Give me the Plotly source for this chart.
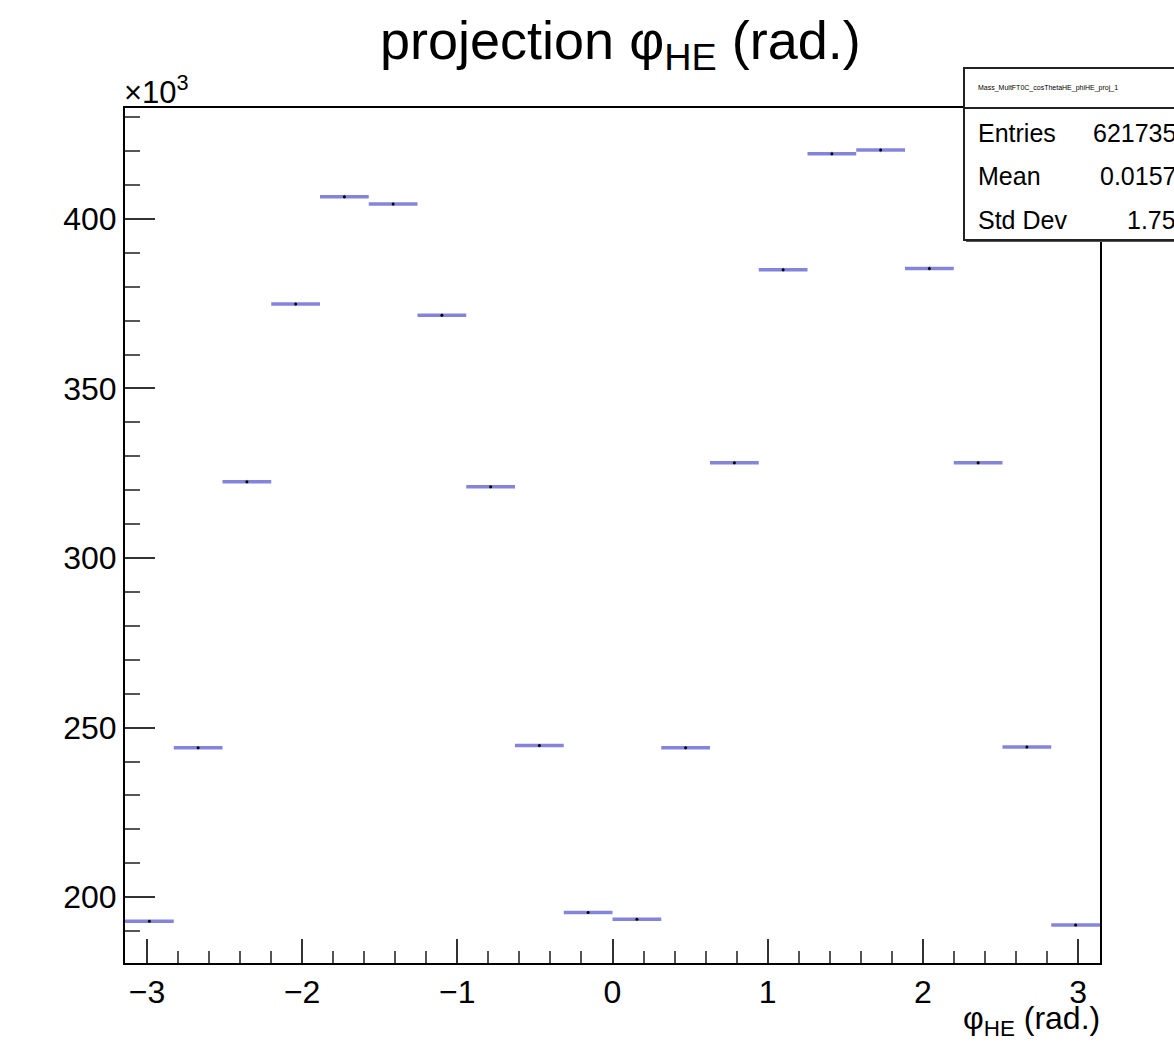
import numpy as np
import plotly.graph_objects as go

# Histogram of phi_HE: 20 uniform bins over [-pi, pi]
n_bins = 20
bin_edges = np.linspace(-np.pi, np.pi, n_bins + 1)
counts_k = [192.9, 244.1, 322.5, 374.9, 406.5, 404.4, 371.6, 321.0, 244.7, 195.5,
            193.5, 244.1, 328.1, 385.0, 419.2, 420.3, 385.4, 328.1, 244.3, 191.8]
y_tick_values_k = [200, 250, 300, 350, 400]
x_tick_values = [-3, -2, -1, 0, 1, 2, 3]

stats_name = "Mass_MultFT0C_cosThetaHE_phiHE_proj_1"
stats_labels = ["Entries", "Mean", "Std Dev"]
stats_values = ["6217350", "0.01573", "1.752"]

centers = 0.5 * (bin_edges[:-1] + bin_edges[1:])
half_width = 0.5 * np.diff(bin_edges)
counts = np.array(counts_k) * 1000.0

W, H = 1174, 1044
L, R, T, B = 125, 1100, 108, 963
FONT = "Liberation Sans, Arial, Helvetica, sans-serif"


def px(xp):
    return (xp - L) / (R - L)


def py(yp):
    return (B - yp) / (B - T)


fig = go.Figure()
fig.add_trace(go.Scatter(
    x=centers, y=counts, mode="markers",
    marker=dict(color="black", size=3),
    error_x=dict(type="data", array=half_width, color="#8484dc", thickness=3.5, width=0),
    error_y=dict(type="data", array=np.sqrt(counts), color="#8484dc", thickness=1, width=0),
    showlegend=False, cliponaxis=True,
))

fig.update_xaxes(
    range=[-np.pi, np.pi], showgrid=False, zeroline=False,
    showline=True, linecolor="black", linewidth=2, mirror=True,
    ticks="inside", ticklen=24, tickwidth=2, tickcolor="#333",
    tickvals=x_tick_values, ticktext=[str(v).replace("-", "\u2212") for v in x_tick_values],
    tickfont=dict(family=FONT, size=32, color="black"),
    minor=dict(ticks="inside", ticklen=12, tickwidth=2, tickcolor="#555", dtick=0.2, tick0=0),
)
fig.update_yaxes(
    range=[180.6e3, 432.7e3], showgrid=False, zeroline=False,
    showline=True, linecolor="black", linewidth=2, mirror=True,
    ticks="inside", ticklen=30, tickwidth=2, tickcolor="#333",
    tickvals=[v * 1000 for v in y_tick_values_k], ticktext=[str(v) for v in y_tick_values_k],
    tickfont=dict(family=FONT, size=32, color="black"),
    minor=dict(ticks="inside", ticklen=15, tickwidth=2, tickcolor="#555", dtick=10000, tick0=0),
)

annotations = [
    dict(text="projection \u03c6<sub>HE</sub> (rad.)", x=px(620), y=py(44), xref="paper", yref="paper",
         xanchor="center", yanchor="middle", showarrow=False,
         font=dict(family=FONT, size=54, color="black")),
    dict(text="\u03c6<sub>HE</sub> (rad.)", x=px(1102), y=py(1020), xref="paper", yref="paper",
         xanchor="right", yanchor="middle", showarrow=False,
         font=dict(family=FONT, size=32, color="black")),
    dict(text="\u00d710<sup>3</sup>", x=px(122), y=py(90), xref="paper", yref="paper",
         xanchor="left", yanchor="middle", showarrow=False,
         font=dict(family=FONT, size=31, color="black")),
    dict(text=stats_name, x=px(976), y=py(88), xref="paper", yref="paper",
         xanchor="left", yanchor="middle", showarrow=False,
         font=dict(family=FONT, size=7, color="black")),
]
row_y = [133, 176, 220]
for lab, val, yy in zip(stats_labels, stats_values, row_y):
    annotations.append(dict(text=lab, x=px(976), y=py(yy), xref="paper", yref="paper",
                            xanchor="left", yanchor="middle", showarrow=False,
                            font=dict(family=FONT, size=25, color="black")))
    annotations.append(dict(text=val, x=px(1192), y=py(yy), xref="paper", yref="paper",
                            xanchor="right", yanchor="middle", showarrow=False,
                            font=dict(family=FONT, size=25, color="black")))

shapes = [
    # statistics box with header separator
    dict(type="rect", xref="paper", yref="paper", x0=px(966), x1=px(1200), y0=py(242), y1=py(70),
         fillcolor="#555", line=dict(width=0), layer="above"),
    dict(type="rect", xref="paper", yref="paper", x0=px(964), x1=px(1200), y0=py(240), y1=py(68),
         fillcolor="white", line=dict(color="#222", width=2), layer="above"),
    dict(type="line", xref="paper", yref="paper", x0=px(964), x1=px(1200), y0=py(108), y1=py(108),
         line=dict(color="#222", width=2), layer="above"),
]

fig.update_layout(
    width=W, height=H,
    margin=dict(l=L, r=W - R, t=T, b=H - B, pad=0),
    paper_bgcolor="white", plot_bgcolor="white",
    annotations=annotations, shapes=shapes,
    font=dict(family=FONT, color="black"),
)

fig.write_html("out.html")
